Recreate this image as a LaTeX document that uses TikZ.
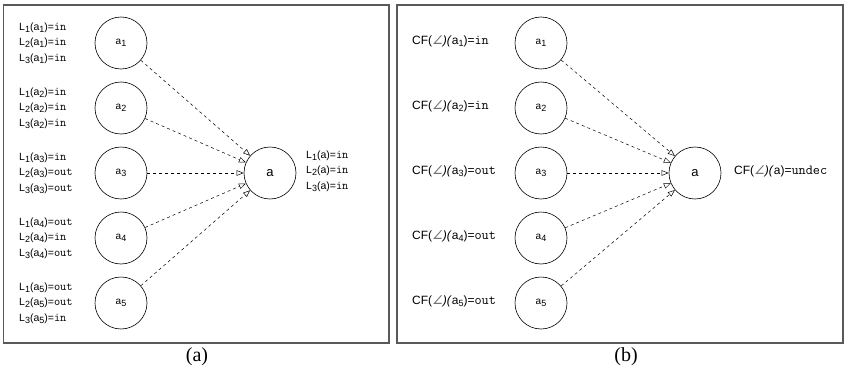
\documentclass[tikz,border=0pt]{standalone}
\usepackage{fontspec}
\setmainfont{Liberation Sans}
\setmonofont[Scale=1.15]{Latin Modern Mono}
\newfontfamily\capfont{Liberation Serif}
\newfontfamily\angfont[FakeSlant=0.25]{DejaVu Sans}
\usepackage{tikz}
\usetikzlibrary{arrows.meta, positioning}
\tikzstyle{arg} = [circle, draw, semithick, minimum size=52pt, inner sep=0pt, font=\fontsize{10}{11}\selectfont]
\tikzstyle{goal} = [circle, draw, semithick, minimum size=52pt, inner sep=0pt, font=\fontsize{13}{14}\selectfont]
\tikzstyle{attack} = [dashed, line width=0.5pt, -{Triangle[open, length=7pt, width=5.5pt]}]
\tikzstyle{lab} = [anchor=west, align=left, inner sep=0pt, font=\fontsize{10.5}{15.5}\selectfont]
\tikzstyle{cflab} = [anchor=west, inner sep=0pt, font=\fontsize{12}{13}\selectfont]
\tikzstyle{panel} = [draw=black!65, line width=1.3pt]
\tikzstyle{caption} = [font=\capfont\fontsize{20}{20}\selectfont]
\newcommand{\lsub}[1]{\raisebox{-0.4ex}{\fontsize{9}{9}\selectfont #1}}
\newcommand{\cf}{CF({\angfont\color{black!55}∠}\textit{)(}}

\begin{document}
\begin{tikzpicture}[x=1pt, y=-1pt]
    \useasboundingbox (0,0) rectangle (844,372);
    % panel (a)
    \draw[panel] (3.5,5) rectangle (389,343);
    \node[caption] (capa) at (197,357) {(a)};
    \foreach \i/\y in {1/43, 2/108, 3/173, 4/238, 5/303}
        \node[arg] (a\i) at (121,\y) {a\lsub{\i}};
    \node[goal] (a) at (270,173) {a};
    \foreach \i in {1,...,5}
        \draw[attack] (a\i) -- (a);
    \node[lab] (la1) at (19,43) {L\lsub{1}(a\lsub{1})=\texttt{in}\\L\lsub{2}(a\lsub{1})=\texttt{in}\\L\lsub{3}(a\lsub{1})=\texttt{in}};
    \node[lab] (la2) at (19,108) {L\lsub{1}(a\lsub{2})=\texttt{in}\\L\lsub{2}(a\lsub{2})=\texttt{in}\\L\lsub{3}(a\lsub{2})=\texttt{in}};
    \node[lab] (la3) at (19,173) {L\lsub{1}(a\lsub{3})=\texttt{in}\\L\lsub{2}(a\lsub{3})=\texttt{out}\\L\lsub{3}(a\lsub{3})=\texttt{out}};
    \node[lab] (la4) at (19,238) {L\lsub{1}(a\lsub{4})=\texttt{out}\\L\lsub{2}(a\lsub{4})=\texttt{in}\\L\lsub{3}(a\lsub{4})=\texttt{out}};
    \node[lab] (la5) at (19,303) {L\lsub{1}(a\lsub{5})=\texttt{out}\\L\lsub{2}(a\lsub{5})=\texttt{out}\\L\lsub{3}(a\lsub{5})=\texttt{in}};
    \node[lab] (la) at (306,171) {L\lsub{1}(a)=\texttt{in}\\L\lsub{2}(a)=\texttt{in}\\L\lsub{3}(a)=\texttt{in}};
    % panel (b)
    \draw[panel] (397,5) rectangle (843,343);
    \node[caption] (capb) at (626,357) {(b)};
    \foreach \i/\y in {1/43, 2/108, 3/173, 4/238, 5/303}
        \node[arg] (b\i) at (541,\y) {a\lsub{\i}};
    \node[goal] (b) at (695,173) {a};
    \foreach \i in {1,...,5}
        \draw[attack] (b\i) -- (b);
    \node[cflab] (lb1) at (412,41) {\cf a\lsub{1})=\texttt{in}};
    \node[cflab] (lb2) at (412,106) {\cf a\lsub{2})=\texttt{in}};
    \node[cflab] (lb3) at (412,171) {\cf a\lsub{3})=\texttt{out}};
    \node[cflab] (lb4) at (412,236) {\cf a\lsub{4})=\texttt{out}};
    \node[cflab] (lb5) at (412,301) {\cf a\lsub{5})=\texttt{out}};
    \node[cflab] (lb) at (734,171) {\cf a)=\texttt{undec}};
\end{tikzpicture}
\end{document}
